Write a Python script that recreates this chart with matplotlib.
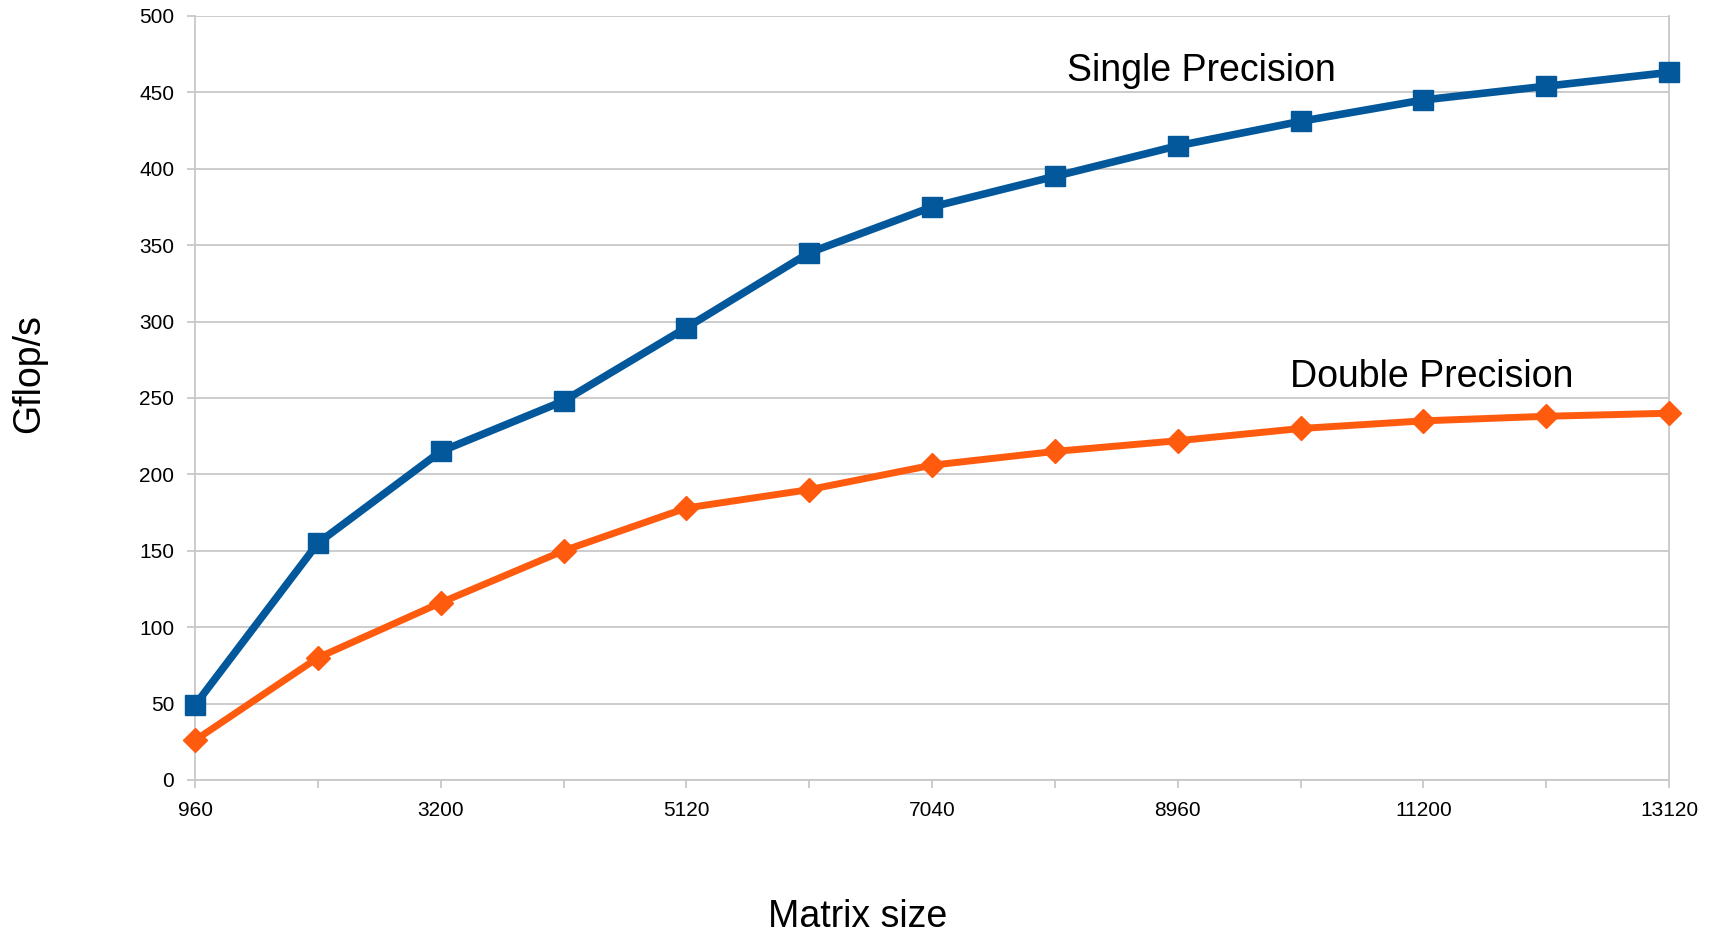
import matplotlib
matplotlib.use("Agg")
import matplotlib.pyplot as plt

plt.rcParams['font.family'] = ['Liberation Sans', 'DejaVu Sans']

# Data
x_labels = ["960", "", "3200", "", "5120", "", "7040", "", "8960", "", "11200", "", "13120"]
single_precision = [49, 155, 215, 248, 296, 345, 375, 395, 415, 431, 445, 454, 463]
double_precision = [26, 80, 116, 150, 178, 190, 206, 215, 222, 230, 235, 238, 240]
y_ticks = [0, 50, 100, 150, 200, 250, 300, 350, 400, 450, 500]

blue = '#02589b'
orange = '#ff5b0f'
grid_c = '#c8c8c8'

fig = plt.figure(figsize=(17.11, 9.35), dpi=100)
ax = fig.add_axes([0.114, 0.1658, 0.9755 - 0.114, 0.983 - 0.1658])

xs = list(range(len(x_labels)))
ax.plot(xs, double_precision, color=orange, lw=5, marker='D', markersize=12,
        clip_on=False, zorder=3)
ax.plot(xs, single_precision, color=blue, lw=5.5, marker='s', markersize=15,
        clip_on=False, zorder=4)

ax.set_xlim(0, len(x_labels) - 1)
ax.set_ylim(0, 500)
ax.set_yticks(y_ticks)
ax.set_xticks(xs)
ax.set_xticklabels(x_labels)

ax.yaxis.grid(True, color=grid_c, lw=1.3)
ax.set_axisbelow(True)
for s in ['left', 'bottom', 'right']:
    ax.spines[s].set_color(grid_c)
    ax.spines[s].set_linewidth(1.3)
ax.spines['top'].set_visible(False)

ax.tick_params(axis='both', colors=grid_c, length=6, width=1.3, labelsize=15,
               labelcolor='black')
ax.tick_params(axis='y', pad=9)
ax.tick_params(axis='x', pad=9)

fig.text(0.0172, 0.601, 'Gflop/s', fontsize=27, rotation=90,
         ha='center', va='center')
fig.text(0.5015, 0.009, 'Matrix size', fontsize=27, ha='center', va='baseline')

ax.text(7.1, 464, 'Single Precision', fontsize=27, ha='left', va='center')
ax.text(8.91, 264, 'Double Precision', fontsize=27, ha='left', va='center')

fig.savefig('out.png', dpi=100)
